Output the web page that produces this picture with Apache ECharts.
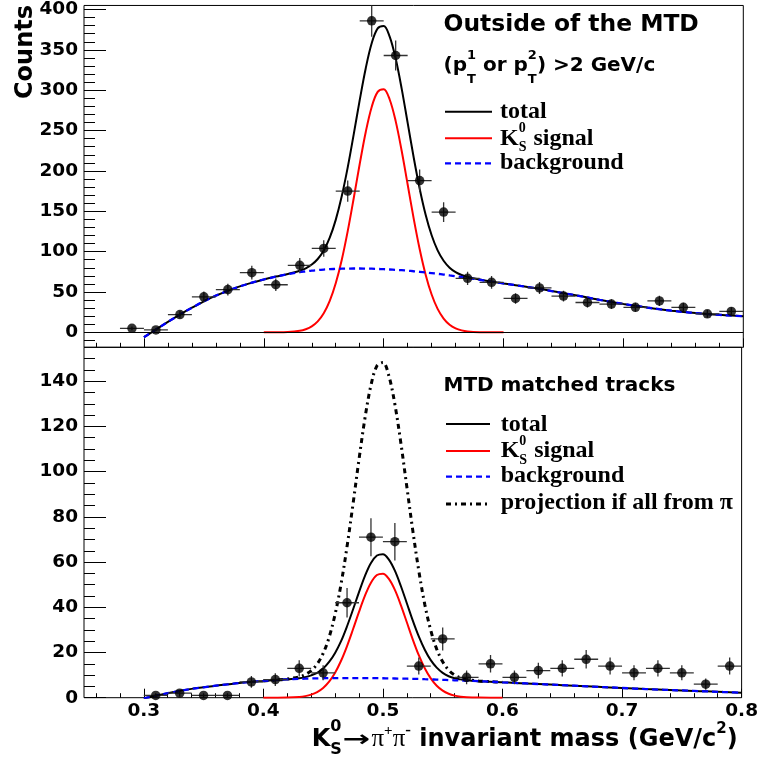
<!DOCTYPE html>
<html><head><meta charset="utf-8">
<script src="https://cdn.jsdelivr.net/npm/echarts@6/dist/echarts.min.js"></script>
<style>html,body{margin:0;padding:0;background:#fff}#c{width:761px;height:761px}</style>
</head><body><div id="c"></div>
<script>
// ---------------- data ----------------
const massTop = [0.29,0.31,0.33,0.35,0.37,0.39,0.41,0.43,0.45,0.47,0.49,0.51,0.53,0.55,0.57,0.59,0.61,0.63,0.65,0.67,0.69,0.71,0.73,0.75,0.77,0.79];
const countsTop = [5,3,22,44,53,74,59,83,104,175,386,343,188,149,67,62,42,55,45,37,35,31,39,31,23,26];
const massBottom = [0.31,0.33,0.35,0.37,0.39,0.41,0.43,0.45,0.47,0.49,0.51,0.53,0.55,0.57,0.59,0.61,0.63,0.65,0.67,0.69,0.71,0.73,0.75,0.77,0.79];
const countsBottom = [1,2,1,1,7,8,13,11,42,71,69,14,26,9,15,9,12,13,17,14,11,13,11,6,14];
const binHalfWidth = 0.01;

const curveX = [0.30,0.31,0.32,0.33,0.34,0.35,0.36,0.37,0.38,0.39,0.40,0.41,0.42,
  0.43,0.435,0.44,0.445,0.45,0.455,0.46,0.465,0.47,0.475,0.48,0.485,0.49,0.495,0.50,0.505,0.51,0.515,0.52,0.525,0.53,0.535,0.54,0.545,0.55,0.555,0.56,0.565,0.57,
  0.58,0.59,0.60,0.61,0.62,0.63,0.64,0.65,0.66,0.67,0.68,0.69,0.70,0.71,0.72,0.73,0.74,0.75,0.76,0.77,0.78,0.79,0.80];
const topBackground = [-6,3.5,13,22,30.5,38.5,45.5,51.5,57,61.5,65.5,69,72,
  74.5,75.5,76.5,77.2,77.8,78.3,78.6,78.9,79,79.1,79.1,79,78.9,78.6,78.3,77.9,77.5,77,76.4,75.7,75,74.2,73.4,72.5,71.6,70.6,69.6,68.6,67.5,
  65.2,62.8,60.6,58.5,56.2,54,51.2,48.6,46,43.2,40.3,37.6,35.2,32.9,30.7,28.7,26.9,25.3,23.9,22.7,21.7,20.8,20];
const topTotal = [-6,3.5,13,22,30.5,38.5,45.5,51.5,57,61.5,65.5,69.1,72.4,
  76.4,79.4,84,90.9,101.5,117.3,139.4,168.6,204.4,245.3,287.7,327,358.2,376.6,379.6,366.4,339.2,302,259.6,217,178.3,145.7,120.3,101.6,88.7,80.1,74.6,71.1,68.7,
  65.4,62.8,60.6,58.5,56.2,54,51.2,48.6,46,43.2,40.3,37.6,35.2,32.9,30.7,28.7,26.9,25.3,23.9,22.7,21.7,20.8,20];
const signalX = [0.40,0.41,0.42,
  0.43,0.435,0.44,0.445,0.45,0.455,0.46,0.465,0.47,0.475,0.48,0.485,0.49,0.495,0.50,0.505,0.51,0.515,0.52,0.525,0.53,0.535,0.54,0.545,0.55,0.555,0.56,0.565,0.57,
  0.58,0.59,0.60];
const topSignal = [0,0.06,0.4,1.9,3.9,7.5,13.7,23.7,39,60.8,89.7,125.4,166.2,208.6,248,279.3,298,301.3,288.5,261.7,225,183.2,141.3,103.3,71.5,46.9,29.1,17.1,9.5,5,2.5,1.2,0.2,0,0];

const bottomBackground = [-0.3,0.9,2.0,3.0,3.9,4.6,5.3,5.9,6.5,7.0,7.4,7.8,8.1,
  8.3,8.4,8.5,8.55,8.6,8.65,8.7,8.7,8.7,8.7,8.7,8.7,8.7,8.65,8.6,8.55,8.5,8.45,8.4,8.35,8.3,8.2,8.1,8.0,7.9,7.8,7.7,7.6,7.5,
  7.3,7.1,6.8,6.55,6.3,6.05,5.8,5.55,5.3,5.05,4.8,4.55,4.3,4.05,3.8,3.6,3.4,3.2,3.0,2.8,2.6,2.4,2.2];
const bottomTotal = [-0.3,0.9,2.0,3.0,3.9,4.6,5.3,5.9,6.5,7.0,7.4,7.8,8.2,
  8.6,9.1,9.9,11.0,12.9,15.8,19.8,25.0,31.6,39.0,46.7,53.9,59.6,62.9,63.5,61.1,56.2,49.4,41.8,34.1,27.1,21.2,16.6,13.3,11.0,9.5,8.6,8.1,7.7,
  7.3,7.1,6.8,6.55,6.3,6.05,5.8,5.55,5.3,5.05,4.8,4.55,4.3,4.05,3.8,3.6,3.4,3.2,3.0,2.8,2.6,2.4,2.2];
const bottomSignal = [0,0.01,0.07,0.34,0.7,1.36,2.49,4.32,7.1,11.07,16.34,22.85,30.27,37.98,45.16,50.86,54.27,54.87,52.54,47.67,40.97,33.36,25.73,18.81,13.02,8.54,5.3,3.12,1.74,0.92,0.46,0.22,0.04,0,0];
const bottomProjection = [7.4,7.8,8.3,9.2,10.2,12.0,14.9,19.6,26.7,36.9,50.3,66.9,85.7,105.4,123.7,138.2,146.8,148.3,142.3,129.8,112.7,93.3,73.9,56.2,41.3,29.8,21.5,15.9,12.2,10.0,8.8,8.1,7.4,7.1,6.8];

const xMajorTicks = [0.3,0.4,0.5,0.6,0.7,0.8];
const xMinorTicks = [0.26,0.28,0.32,0.34,0.36,0.38,0.42,0.44,0.46,0.48,0.52,0.54,0.56,0.58,0.62,0.64,0.66,0.68,0.72,0.74,0.76,0.78];
const yTopMajor = [0,50,100,150,200,250,300,350,400];
const yTopMinor = [-10,10,20,30,40,60,70,80,90,110,120,130,140,160,170,180,190,210,220,230,240,260,270,280,290,310,320,330,340,360,370,380,390];
const yBottomMajor = [0,20,40,60,80,100,120,140];
const yBottomMinor = [5,10,15,25,30,35,45,50,55,65,70,75,85,90,95,105,110,115,125,130,135,145,150];

// ---------------- layout ----------------
const SANS = '"DejaVu Sans"';
const SERIF = '"Liberation Serif"';
const G_LEFT = 84, G_RIGHT = 17.7;
const pairs = (xs, ys) => xs.map((x, i) => [x, ys[i]]);

const mctx = document.createElement('canvas').getContext('2d');
function tw(t, f) { mctx.font = f; return mctx.measureText(t).width; }
function fstr(q) { return (q.weight || 'bold') + ' ' + q.size + 'px ' + (q.family || SANS); }
function runText(x0, base, parts) {
  const out = []; let x = x0;
  for (const p of parts) {
    const group = p.stack || [p];
    let adv = 0;
    for (const q of group) {
      const f = fstr(q);
      const sx = q.sx || 1;
      const w = tw(q.text, f) * sx;
      out.push({type:'text', x: x, y: base + (q.dy || 0) - 0.3 * q.size, scaleX: sx, z: 100,
        style:{text:q.text, font:f, fill:'#000', align:'left', verticalAlign:'middle', textAlign:'left', textVerticalAlign:'middle'}});
      adv = Math.max(adv, w);
    }
    x += adv + (p.gap || 0);
  }
  return out;
}
function legLine(x1, x2, y, color, width, dash) {
  return {type:'line', z:100, shape:{x1, y1:y, x2, y2:y}, style:{stroke:color, lineWidth:width, lineDash: dash || null}};
}

function xAx(grid, ticks, len, labels) {
  return {type:'value', gridIndex:grid, min:0.25, max:0.8, position:'bottom',
    axisLine:{show:false, onZero:false}, splitLine:{show:false},
    axisTick:{show:true, inside:true, length:len, customValues:ticks, lineStyle:{color:'#000', width:1}},
    axisLabel:{show:labels, customValues: labels ? xMajorTicks : undefined, margin:4, color:'#000', fontFamily:SANS, fontWeight:'bold', fontSize:18.5}};
}
function yAx(grid, min, max, ticks, len, labels) {
  return {type:'value', gridIndex:grid, min, max, position:'left',
    axisLine:{show:false, onZero:false}, splitLine:{show:false},
    axisTick:{show:true, inside:true, length:len, customValues:ticks, lineStyle:{color:'#000', width:1}},
    axisLabel:{show:!!labels, customValues: labels || undefined, margin:6, color:'#000', fontFamily:SANS, fontWeight:'bold', fontSize:18.5}};
}
function curve(idx, xs, ys, color, width, type, z) {
  return {type:'line', xAxisIndex:idx, yAxisIndex:idx, data:pairs(xs, ys), showSymbol:false, symbol:'none',
    smooth:0.35, clip:true, silent:true, z, lineStyle:{color, width, type}};
}
function errRender(params, api) {
  const x = api.value(0), y = api.value(1), e = api.value(2);
  const h0 = api.coord([x - binHalfWidth, y]), h1 = api.coord([x + binHalfWidth, y]);
  const v0 = api.coord([x, y - e]), v1 = api.coord([x, y + e]);
  const st = {stroke:'#333', lineWidth:1.3};
  return {type:'group', children:[
    {type:'line', shape:{x1:h0[0], y1:h0[1], x2:h1[0], y2:h1[1]}, style:st},
    {type:'line', shape:{x1:v0[0], y1:v0[1], x2:v1[0], y2:v1[1]}, style:st}
  ]};
}
function points(idx, xs, ys) {
  return [
    {type:'custom', xAxisIndex:idx, yAxisIndex:idx, renderItem:errRender, clip:true, silent:true, z:8,
      data: xs.map((x, i) => [x, ys[i], Math.sqrt(ys[i])])},
    {type:'scatter', xAxisIndex:idx, yAxisIndex:idx, data:pairs(xs, ys), symbol:'circle', symbolSize:9.5, silent:true, z:10,
      itemStyle:{color:'#000'}}
  ];
}

const blueDash = [6, 4];
const dashDot = [5, 4, 2, 4];

const graphics = [].concat(
  [{type:'text', x:26, y:52, rotation:Math.PI/2, z:100,
    style:{text:'Counts', font:'bold 24px ' + SANS, fill:'#000', align:'center', verticalAlign:'middle', textAlign:'center', textVerticalAlign:'middle'}}],
  runText(311.7, 746.7, [
    {text:'K', size:24},
    {stack:[{text:'0', size:16, dy:-15}, {text:'S', size:16, dy:8}], gap:1},
    {text:'\u2192', size:22, sx:1.5, gap:1},
    {text:'\u03c0', size:25, family:SERIF, weight:'normal'},
    {text:'+', size:15, family:SERIF, dy:-11},
    {text:'\u03c0', size:25, family:SERIF, weight:'normal'},
    {text:'-', size:17, family:SERIF, dy:-11},
    {text:' invariant mass (GeV/c', size:24},
    {text:'2', size:15, dy:-13},
    {text:')', size:24}
  ]),
  // top panel legend
  runText(443.5, 31.7, [{text:'Outside of the MTD', size:23.4}]),
  runText(443.5, 71.7, [
    {text:'(p', size:20},
    {stack:[{text:'1', size:13, dy:-12}, {text:'T', size:13, dy:11.5}]},
    {text:' or p', size:20},
    {stack:[{text:'2', size:13, dy:-12}, {text:'T', size:13, dy:11.5}]},
    {text:') >2 GeV/c', size:20}
  ]),
  [legLine(445, 492, 111.7, '#000', 2), legLine(445, 492, 138.3, '#ff0000', 2), legLine(445, 492, 163.3, '#0000ff', 2.3, blueDash)],
  runText(500, 119.3, [{text:'total', size:24, family:SERIF}]),
  runText(500, 145.7, [
    {text:'K', size:24, family:SERIF},
    {stack:[{text:'0', size:14, family:SERIF, dy:-12.7}, {text:'S', size:14, family:SERIF, dy:6}], gap:1},
    {text:' signal', size:24, family:SERIF}
  ]),
  runText(500, 170, [{text:'background', size:24, family:SERIF}]),
  // bottom panel legend
  runText(443.5, 391.7, [{text:'MTD matched tracks', size:20}]),
  [legLine(446, 490, 424, '#000', 2), legLine(446, 490, 451, '#ff0000', 2), legLine(446, 490, 476.7, '#0000ff', 2.3, blueDash), legLine(446, 490, 504, '#000', 3, dashDot)],
  runText(500.7, 431.7, [{text:'total', size:24, family:SERIF}]),
  runText(500.7, 458.3, [
    {text:'K', size:24, family:SERIF},
    {stack:[{text:'0', size:14, family:SERIF, dy:-12.7}, {text:'S', size:14, family:SERIF, dy:6}], gap:1},
    {text:' signal', size:24, family:SERIF}
  ]),
  runText(500.7, 483, [{text:'background', size:24, family:SERIF}]),
  runText(500.7, 510, [{text:'projection if all from \u03c0', size:24, family:SERIF}])
);

const option = {
  animation:false,
  backgroundColor:'#fff',
  grid:[
    {left:G_LEFT, right:G_RIGHT, top:4, height:343.3, show:true, borderColor:'#000', borderWidth:1, backgroundColor:'transparent', containLabel:false},
    {left:G_LEFT, right:G_RIGHT, top:347.3, height:350.4, show:true, borderColor:'#000', borderWidth:1, backgroundColor:'transparent', containLabel:false}
  ],
  xAxis:[ xAx(0, xMajorTicks, 9, false), xAx(1, xMajorTicks, 9, true), xAx(0, xMinorTicks, 4.5, false), xAx(1, xMinorTicks, 4.5, false) ],
  yAxis:[ yAx(0, -18.5, 405, yTopMajor, 22, yTopMajor), yAx(1, 0, 155, yBottomMajor, 22, yBottomMajor),
          yAx(0, -18.5, 405, yTopMinor, 11, null), yAx(1, 0, 155, yBottomMinor, 11, null) ],
  series:[
    Object.assign(curve(0, curveX, topTotal, '#000', 2, 'solid', 3), {
      markLine:{silent:true, symbol:'none', label:{show:false}, lineStyle:{color:'#000', width:1.2, type:'solid'}, data:[{yAxis:0}]}
    }),
    curve(0, signalX, topSignal, '#ff0000', 2, 'solid', 4),
    curve(0, curveX, topBackground, '#0000ff', 2.3, blueDash, 5),
    ...points(0, massTop, countsTop),
    curve(1, signalX, bottomProjection, '#000', 3, dashDot, 2),
    curve(1, curveX, bottomTotal, '#000', 2, 'solid', 3),
    curve(1, signalX, bottomSignal, '#ff0000', 2, 'solid', 4),
    curve(1, curveX, bottomBackground, '#0000ff', 2.3, blueDash, 5),
    ...points(1, massBottom, countsBottom)
  ],
  graphic: graphics
};
const chart = echarts.init(document.getElementById('c'), null, {renderer:'canvas'});
chart.setOption(option);
</script>
</body></html>
